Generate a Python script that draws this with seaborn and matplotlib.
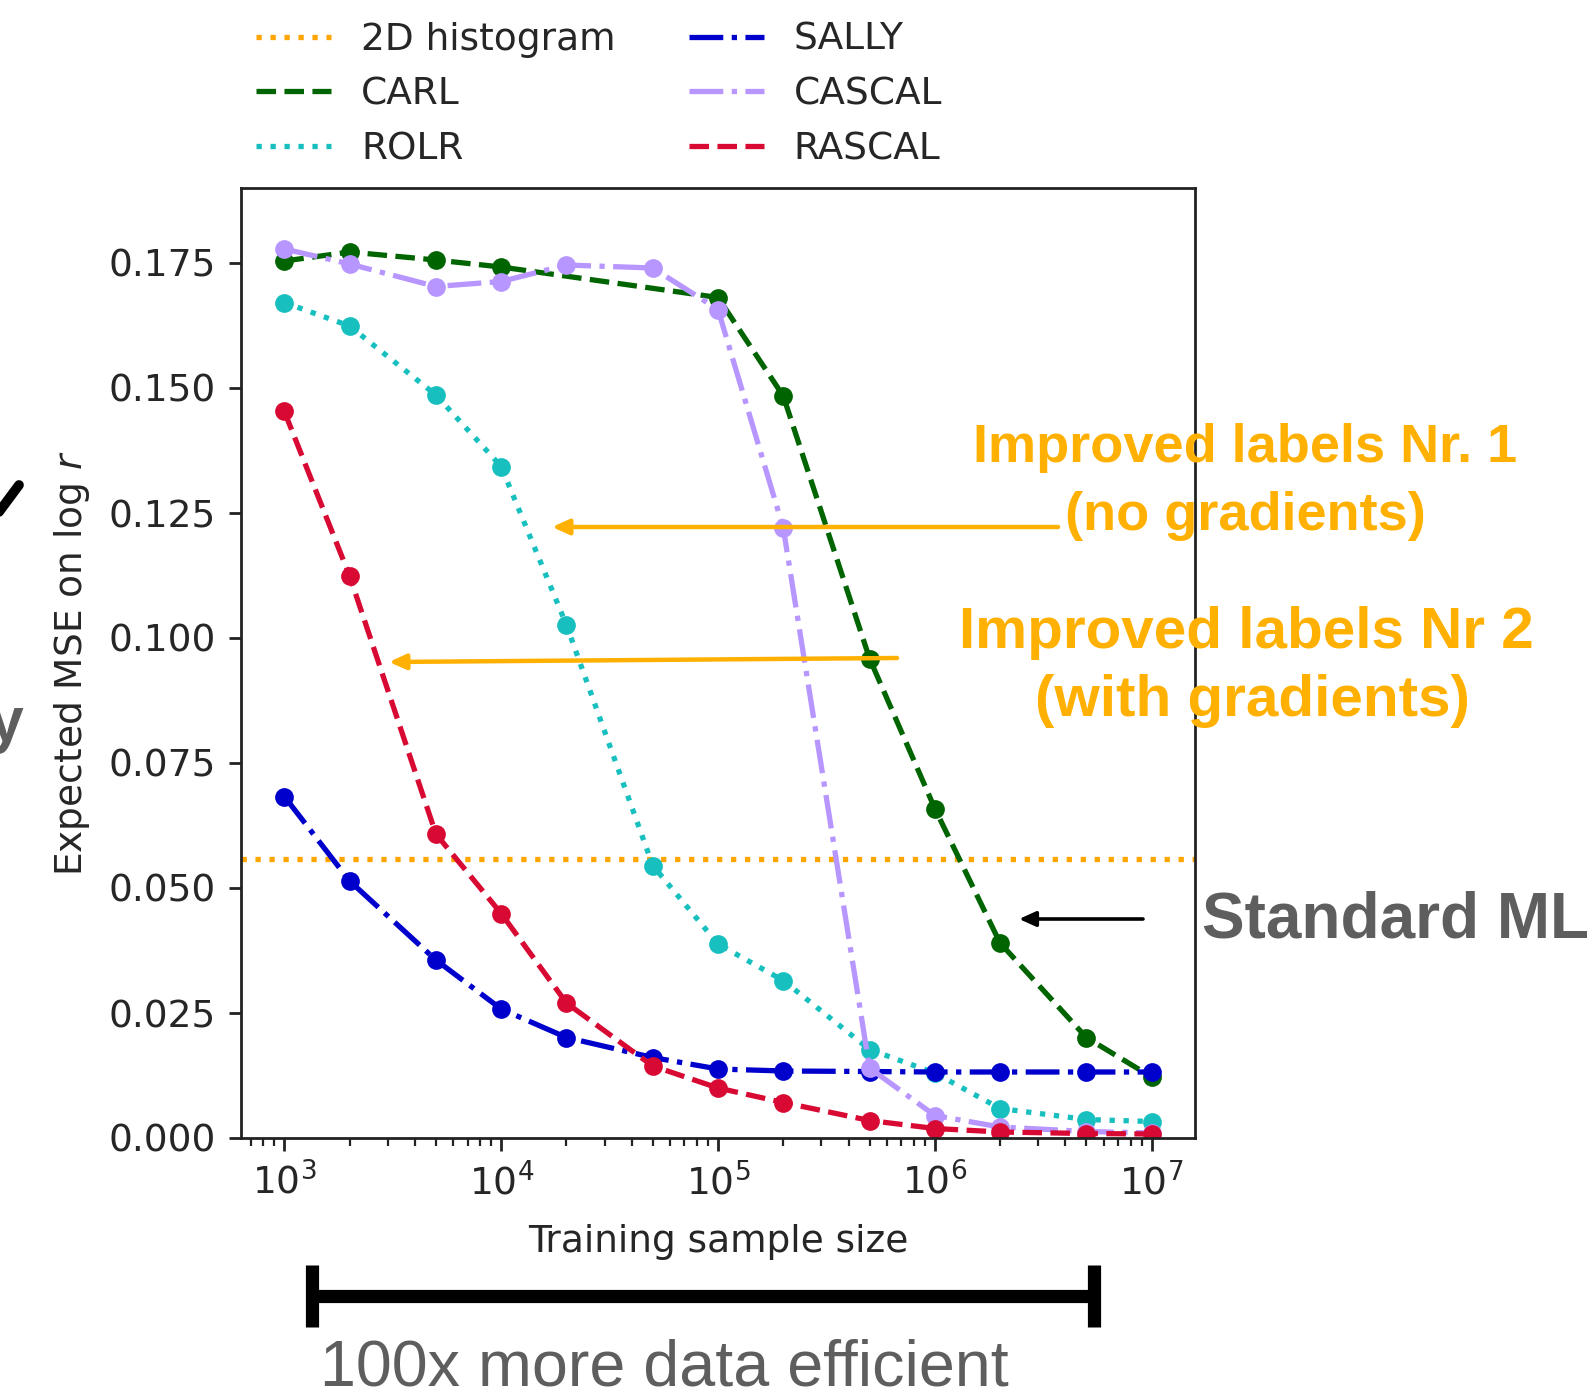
import numpy as np
import pandas as pd
import seaborn as sns
import matplotlib.pyplot as plt
from matplotlib.lines import Line2D

# ---------------- data ----------------
sizes = [1e3, 2e3, 5e3, 1e4, 2e4, 5e4, 1e5, 2e5, 5e5, 1e6, 2e6, 5e6, 1e7]
carl_sizes = [1e3, 2e3, 5e3, 1e4, 1e5, 2e5, 5e5, 1e6, 2e6, 5e6, 1e7]
carl = [0.1754, 0.1772, 0.1756, 0.1742, 0.1681, 0.1484, 0.0959, 0.0659, 0.0390, 0.0201, 0.0122]
rolr = [0.1671, 0.1624, 0.1486, 0.1343, 0.1026, 0.0545, 0.0388, 0.0315, 0.0177, 0.0130, 0.0059, 0.0037, 0.0033]
sally = [0.0683, 0.0514, 0.0356, 0.0258, 0.0201, 0.0161, 0.0138, 0.0134, 0.0133, 0.0132, 0.0132, 0.0132, 0.0132]
cascal = [0.1778, 0.1748, 0.1703, 0.1713, 0.1746, 0.1740, 0.1657, 0.1220, 0.0140, 0.0045, 0.0022, 0.0013, 0.0010]
rascal = [0.1453, 0.1124, 0.0608, 0.0449, 0.0270, 0.0144, 0.0100, 0.0071, 0.0035, 0.0019, 0.0012, 0.0009, 0.0008]
histogram_mse = 0.0559

series_names = ["CARL", "ROLR", "SALLY", "CASCAL", "RASCAL"]
series_x = [carl_sizes, sizes, sizes, sizes, sizes]
series_y = [carl, rolr, sally, cascal, rascal]
series_colors = ["darkgreen", "#17BFBF", "mediumblue", "#B796FF", "#D80A34"]
series_styles = ["--", ":", "-.", "-.", "--"]

W, H = 1593, 1395
def fx(x):
    return x / W
def fy(y):
    return 1 - y / H

sns.set_style("ticks")
plt.rcParams["font.family"] = ["DejaVu Sans"]

fig = plt.figure(figsize=(W / 100, H / 100), dpi=100)
ax = fig.add_axes([fx(241), fy(1138), 954 / W, 950 / H])

ax.axhline(histogram_mse, color="orange", linestyle=":", lw=3.8, label="2D histogram")

for name, xs, ys, c, ls in zip(series_names, series_x, series_y, series_colors, series_styles):
    df = pd.DataFrame({"n": xs, "mse": ys})
    sns.lineplot(data=df, x="n", y="mse", ax=ax, color=c, linestyle=ls, lw=3.8,
                 marker="o", markersize=13.5, markeredgewidth=0, label=name)

ax.set_xscale("log")
ax.set_xlim(10 ** 2.8, 10 ** 7.2)
ax.set_ylim(0, 0.19)
ax.set_yticks(np.arange(0, 0.176, 0.025))
ax.set_yticklabels([f"{v:.3f}" for v in np.arange(0, 0.176, 0.025)])

for sp in ax.spines.values():
    sp.set_linewidth(2.0)
    sp.set_color("#222222")
ax.tick_params(axis="both", which="major", length=9, width=2.0, pad=9, labelsize=27, color="#222222")
ax.tick_params(axis="both", which="minor", length=5.5, width=1.6, color="#222222")
ax.tick_params(axis="x", which="both", bottom=True)
ax.tick_params(axis="y", which="both", left=True)

ax.set_xlabel("Training sample size", fontsize=27, labelpad=15)
ax.set_ylabel(r"Expected MSE on $\log\,r$", fontsize=27)
ax.yaxis.set_label_coords(-0.156, 0.5)

leg = ax.legend(ncol=2, loc="lower left", bbox_to_anchor=(0.0, 1.006), frameon=False,
                fontsize=27, handlelength=2.0, handletextpad=0.8, columnspacing=1.95,
                labelspacing=0.5, borderaxespad=0.0)
for h in leg.legend_handles:
    try:
        h.set_marker("")
    except Exception:
        pass

# ---------------- overlay annotations ----------------
orange = "#FFB000"
gray = "#5E5E5E"
bold_font = ["Liberation Sans", "DejaVu Sans"]

fig.text(fx(1245), fy(448), "Improved labels Nr. 1", color=orange, fontsize=39,
         fontweight="bold", family=bold_font, ha="center", va="center")
fig.text(fx(1245), fy(516), "(no gradients)", color=orange, fontsize=39,
         fontweight="bold", family=bold_font, ha="center", va="center")
fig.text(fx(1246), fy(633), "Improved labels Nr 2", color=orange, fontsize=42,
         fontweight="bold", family=bold_font, ha="center", va="center")
fig.text(fx(1252), fy(701), "(with gradients)", color=orange, fontsize=42,
         fontweight="bold", family=bold_font, ha="center", va="center")

ax.annotate("", xy=(fx(552), fy(527)), xycoords="figure fraction",
            xytext=(fx(1058), fy(527)), textcoords="figure fraction",
            arrowprops=dict(arrowstyle="-|>,head_length=1.0,head_width=0.45",
                            color=orange, lw=3.2, shrinkA=0, shrinkB=0))
ax.annotate("", xy=(fx(389), fy(662)), xycoords="figure fraction",
            xytext=(fx(897), fy(658)), textcoords="figure fraction",
            arrowprops=dict(arrowstyle="-|>,head_length=1.0,head_width=0.45",
                            color=orange, lw=3.2, shrinkA=0, shrinkB=0))

fig.text(fx(1202), fy(921), "Standard ML", color=gray, fontsize=46,
         fontweight="bold", family=bold_font, ha="left", va="center")
ax.annotate("", xy=(fx(1019), fy(919)), xycoords="figure fraction",
            xytext=(fx(1143), fy(919)), textcoords="figure fraction",
            arrowprops=dict(arrowstyle="-|>,head_length=1.0,head_width=0.45",
                            color="black", lw=2.6, shrinkA=0, shrinkB=0))

# bracket
bracket = dict(color="black", lw=9.5, solid_capstyle="butt", transform=fig.transFigure)
fig.add_artist(Line2D([fx(312), fx(1094)], [fy(1296), fy(1296)], **bracket))
fig.add_artist(Line2D([fx(312), fx(312)], [fy(1265), fy(1327)], **bracket))
fig.add_artist(Line2D([fx(1094), fx(1094)], [fy(1265), fy(1327)], **bracket))
fig.text(fx(664), fy(1368), "100x more data efficient", color=gray, fontsize=46.5,
         family=bold_font, ha="center", va="center")

# cut-off pieces at the left edge (as in the source slide)
fig.text(fx(23), fy(725), "y", color=gray, fontsize=45, fontweight="bold",
         family=bold_font, ha="right", va="center")
fig.add_artist(Line2D([fx(-4), fx(19)], [fy(516), fy(485)], color="black", lw=7,
                      solid_capstyle="round", transform=fig.transFigure))

fig.savefig("out.png", dpi=100)
